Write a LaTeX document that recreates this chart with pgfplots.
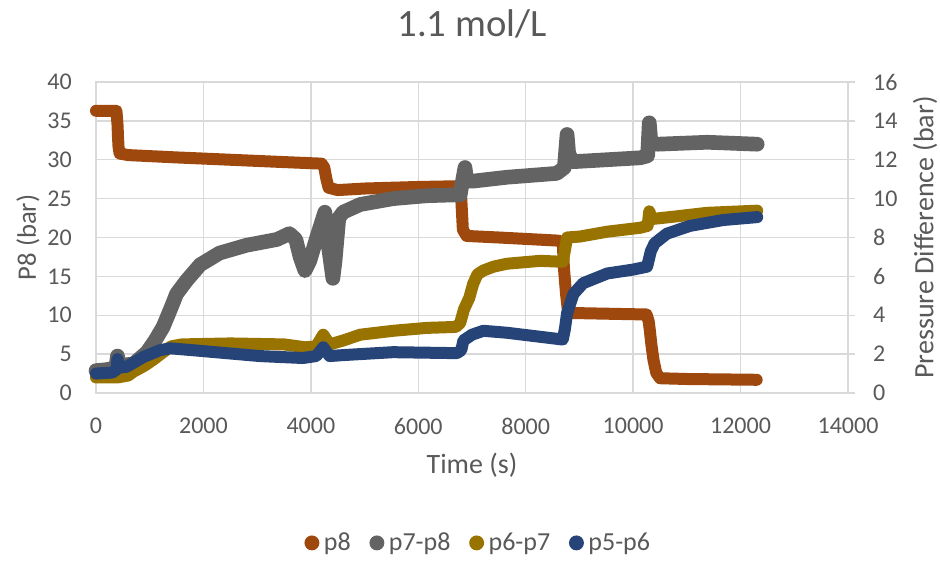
\documentclass[border=0pt]{standalone}
\usepackage{pgfplots}
\pgfplotsset{compat=1.18}
\usepackage{fontspec}
\setmainfont{Carlito}

\definecolor{cPeight}{HTML}{9E480E}
\definecolor{cSevenEight}{HTML}{636363}
\definecolor{cSixSeven}{HTML}{997300}
\definecolor{cFiveSix}{HTML}{264478}
\definecolor{gridc}{HTML}{D9D9D9}
\definecolor{textc}{HTML}{595959}

\pgfplotsset{
  common/.style={
    scale only axis, width=564pt, height=233.25pt,
    xmin=0, xmax=14000,
    clip=false,
    tick label style={font=\fontsize{18}{21}\selectfont, text=textc},
    label style={font=\fontsize{21}{25}\selectfont, text=textc},
    /pgf/number format/assume math mode=true,
    /pgf/number format/1000 sep={},
    scaled x ticks=false,
  },
  series/.style={line width=#1, line join=round, line cap=round},
}

\begin{document}
\begin{tikzpicture}
\useasboundingbox (-72pt,-126pt) rectangle (633pt,294.75pt);

% primary axis: outlet pressure p8
\begin{axis}[
  common,
  ymin=0, ymax=40,
  xtick={0,2000,...,14000}, ytick={0,5,...,40},
  grid=major, major grid style={draw=gridc, line width=1.1pt},
  axis line style={draw=gridc, line width=1.1pt},
  major tick length=0pt,
  yticklabel style={inner sep=0pt, xshift=-18pt},
  xticklabel style={inner sep=0pt, yshift=-18.5pt},
  xlabel={Time (s)}, ylabel={P8 (bar)},
  xlabel style={at={(axis description cs:0.5,-0.2315)}, anchor=center},
  ylabel style={at={(axis description cs:-0.0904,0.5)}, anchor=center,
    font=\fontsize{20}{24}\selectfont},
  title={1.1 mol/L},
  title style={at={(axis description cs:0.5,1.1608)}, anchor=center,
    font=\fontsize{29}{34}\selectfont, text=textc},
]
\addplot[cPeight, series=9pt] coordinates {
  (0,36.3) (380,36.3) (400,34.6) (410,32.9) (420,31.6) (440,30.8) (600,30.6)
  (1500,30.3) (2500,30.0) (3500,29.7) (4200,29.5) (4250,29.0) (4290,27.5)
  (4330,26.4) (4500,26.1) (5000,26.3) (6000,26.5) (6780,26.6) (6800,25.0)
  (6830,21.0) (6900,20.2) (7500,20.0) (8600,19.6) (8690,19.4) (8710,16.2)
  (8730,14.5) (8750,12.8) (8790,10.3) (9500,10.2) (10250,10.1) (10290,9.2)
  (10310,8.1) (10340,6.2) (10380,4.2) (10430,2.6) (10500,1.9) (11000,1.8)
  (12300,1.7)
};
\end{axis}

% secondary axis: pressure differences
\begin{axis}[
  common,
  ymin=0, ymax=16, ytick={0,2,...,16},
  axis x line=none, axis y line*=right,
  axis line style={draw=gridc, line width=1.1pt},
  y axis line style={-},
  tick style={draw=gridc, line width=1.1pt},
  tick align=outside, major tick length=5pt,
  yticklabel style={inner sep=0pt, xshift=13.7pt, anchor=west},
  ylabel={Pressure Difference (bar)},
  ylabel style={at={(axis description cs:1.1024,0.5)}, anchor=center, rotate=0},
  legend image code/.code={\fill[#1, draw=none] (0pt,0pt) circle (5.6pt);},
  legend style={at={(axis description cs:0.507,-0.482)}, anchor=center,
    draw=none, fill=none, legend columns=-1,
    nodes={inner sep=0pt},
    font=\fontsize{19.5}{23}\selectfont, text=textc,
    /tikz/every odd column/.append style={column sep=3.4pt},
    /tikz/every even column/.append style={column sep=14pt}},
]
\addlegendimage{cPeight}
\addplot[cSevenEight, series=11pt] coordinates {
  (0,1.15) (200,1.2) (370,1.3) (400,1.9) (430,1.4) (700,1.5) (950,2.1)
  (1100,2.7) (1250,3.4) (1400,4.4) (1500,5.1) (1690,5.8) (1940,6.6)
  (2300,7.2) (2800,7.6) (3370,7.9) (3600,8.2) (3720,7.9) (3800,7.0)
  (3890,6.3) (3980,6.8) (4110,8.0) (4260,9.3) (4330,7.5) (4410,5.9)
  (4450,6.8) (4520,9.0) (4600,9.3) (4920,9.7) (5530,10.0) (6160,10.15)
  (6780,10.2) (6830,11.0) (6870,11.6) (6900,10.9) (7020,10.9) (7650,11.1)
  (8580,11.3) (8720,11.6) (8770,13.3) (8800,12.3) (8880,11.9) (10130,12.1)
  (10270,12.2) (10300,13.9) (10330,12.9) (10450,12.8) (11380,12.9)
  (12310,12.8)
};
\addplot[cSixSeven, series=9pt] coordinates {
  (0,0.8) (400,0.8) (600,0.9) (700,1.1) (900,1.4) (1060,1.7) (1250,2.1)
  (1400,2.4) (1600,2.5) (2500,2.55) (3500,2.5) (3900,2.35) (4100,2.4)
  (4230,3.0) (4350,2.5) (4600,2.7) (4920,3.0) (5530,3.2) (6160,3.35)
  (6700,3.4) (6780,3.6) (6850,4.3) (6950,4.9) (7020,5.6) (7100,6.1)
  (7210,6.3) (7400,6.5) (7650,6.65) (8270,6.8) (8690,6.75) (8740,7.5)
  (8770,8.0) (9010,8.05) (9520,8.3) (10130,8.5) (10270,8.6) (10300,9.35)
  (10350,8.95) (10750,9.07) (11380,9.27) (12310,9.38)
};
\addplot[cFiveSix, series=9pt] coordinates {
  (0,1.0) (300,1.05) (380,1.2) (400,1.75) (430,1.3) (570,1.35) (880,1.85)
  (1190,2.2) (1380,2.3) (1810,2.2) (3050,1.9) (3850,1.8) (4100,1.9)
  (4230,2.35) (4350,1.9) (4600,1.95) (5530,2.1) (6720,2.05) (6800,2.2)
  (6840,2.7) (7000,3.0) (7210,3.2) (7650,3.1) (8690,2.75) (8730,3.3)
  (8770,4.1) (8890,5.1) (9070,5.65) (9520,6.15) (10000,6.35) (10260,6.5)
  (10330,7.3) (10400,7.7) (10630,8.2) (11060,8.6) (11680,8.9) (12310,9.05)
};
\legend{p8,p7-p8,p6-p7,p5-p6}
\end{axis}
\end{tikzpicture}
\end{document}
